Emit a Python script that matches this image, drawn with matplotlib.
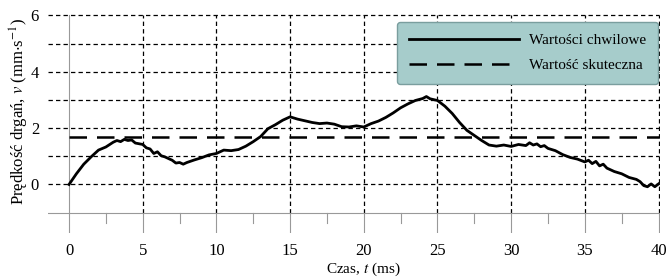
import matplotlib
matplotlib.use("Agg")
import matplotlib.pyplot as plt

plt.rcParams["font.family"] = ["Liberation Serif", "DejaVu Serif"]
plt.rcParams["mathtext.fontset"] = "stix"

# data (time in ms, velocity in mm/s)
t = [0.0, 0.5, 1.0, 1.5, 2.0, 2.5, 3.0, 3.25, 3.5, 3.75, 4.0, 4.25, 4.5,
     5.0, 5.25, 5.5, 5.75, 6.0, 6.25, 6.5, 6.75, 7.0, 7.25, 7.5, 7.75, 8.0,
     8.5, 9.0, 9.5, 10.0, 10.5, 11.0, 11.5, 12.0, 12.5, 13.0, 13.5, 14.0,
     14.5, 15.0, 15.5, 16.0, 16.5, 17.0, 17.5, 18.0, 18.5, 19.0, 19.5,
     20.0, 20.5, 21.0, 21.5, 22.0, 22.5, 23.0, 23.5, 24.0, 24.25, 24.5,
     25.0, 25.5, 26.0, 26.5, 27.0, 27.5, 28.0, 28.5, 29.0, 29.5, 30.0,
     30.5, 31.0, 31.25, 31.5, 31.75, 32.0, 32.25, 32.5, 33.0, 33.5, 34.0,
     34.5, 35.0, 35.25, 35.5, 35.75, 36.0, 36.25, 36.5, 37.0, 37.5, 38.0,
     38.5, 38.75, 39.0, 39.25, 39.5, 39.75, 40.0]
v = [0.00, 0.38, 0.72, 0.98, 1.22, 1.33, 1.50, 1.56, 1.52, 1.60, 1.56, 1.58,
     1.47, 1.42, 1.30, 1.26, 1.10, 1.16, 1.02, 0.98, 0.92, 0.86, 0.76, 0.78,
     0.72, 0.78, 0.87, 0.95, 1.05, 1.10, 1.22, 1.20, 1.24, 1.36, 1.52,
     1.70, 1.98, 2.12, 2.28, 2.40, 2.32, 2.26, 2.20, 2.16, 2.18, 2.14, 2.05,
     2.04, 2.08, 2.04, 2.16, 2.25, 2.38, 2.54, 2.72, 2.86, 2.98, 3.05, 3.12,
     3.04, 2.98, 2.78, 2.52, 2.20, 1.92, 1.74, 1.56, 1.40, 1.36, 1.40, 1.35,
     1.42, 1.38, 1.48, 1.40, 1.44, 1.34, 1.38, 1.28, 1.20, 1.06, 0.96, 0.90,
     0.80, 0.86, 0.74, 0.82, 0.66, 0.72, 0.58, 0.46, 0.38, 0.25, 0.18, 0.10,
     -0.04, -0.08, 0.02, -0.08, 0.02]
rms = 1.70

x_ticks = [0, 5, 10, 15, 20, 25, 30, 35, 40]
y_ticks = [0, 2, 4, 6]
y_grid = [0, 1, 2, 3, 4, 5, 6]

fig = plt.figure(figsize=(6.68, 2.79), dpi=100)
ax = fig.add_axes([0.072, 0.165, 0.916, 0.785])
xmin, xmax = -1.42, 40.1
ymin, ymax = -1.72, 6.05
ax.set_xlim(xmin, xmax)
ax.set_ylim(ymin, ymax)
for s in ax.spines.values():
    s.set_visible(False)

# grid
for y in y_grid:
    ax.plot([xmin, 40], [y, y], color="black", lw=0.9, dashes=(3.5, 2.5), zorder=1)
for x in x_ticks[1:]:
    ax.plot([x, x], [-1, 6], color="black", lw=0.9, dashes=(3.5, 2.5), zorder=1)
    ax.plot([x, x], [ymin, -1], color="#999999", lw=0.8, zorder=1)
for x in [2.5 + 5 * k for k in range(8)]:
    ax.plot([x, x], [-1.35, -1], color="#999999", lw=0.8, zorder=1)
ax.plot([xmin, 40], [-1, -1], color="#999999", lw=0.8, zorder=1)
ax.plot([0, 0], [ymin, 6], color="#999999", lw=0.8, zorder=1)

ax.plot(t, v, color="black", lw=2.0, zorder=3, label="Wartości chwilowe")
ax.plot([0, 40], [rms, rms], color="black", lw=1.8, dashes=(7, 4), zorder=3,
        label="Wartość skuteczna")

ax.set_xticks(x_ticks)
ax.set_yticks(y_ticks)
ax.tick_params(length=0, labelsize=12, pad=7)
ax.tick_params(axis="y", pad=6.5)
fig.text(363 / 668, 1 - 273 / 279, r"Czas, $t$ (ms)", fontsize=11,
         ha="center", va="baseline")
fig.text(19 / 668, 1 - 111 / 279, r"Prędkość drgań, $v$ (mm$\cdot$s$^{-1}$)",
         fontsize=12, rotation=90, ha="center", va="center")

leg = ax.legend(loc="upper right", bbox_to_anchor=(658 / 668, 1 - 22 / 279),
                bbox_transform=fig.transFigure, borderaxespad=0, fontsize=11,
                handlelength=7.2, frameon=True, fancybox=True, framealpha=1,
                borderpad=0.75, labelspacing=0.75, handletextpad=0.7)
leg.get_frame().set_facecolor("#a6cccb")
leg.get_frame().set_edgecolor("#7a9e9e")
leg.set_zorder(5)

fig.savefig("out.png", dpi=100)
